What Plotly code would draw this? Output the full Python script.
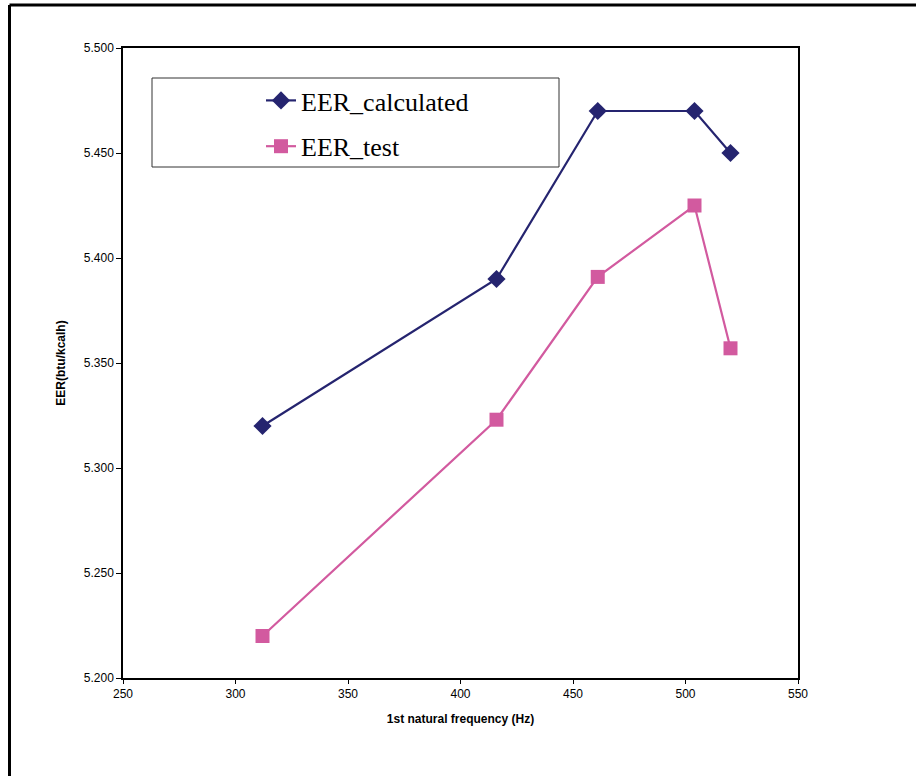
import plotly.graph_objects as go

freq = [312, 416, 461, 504, 520]
eer_calculated = [5.320, 5.390, 5.470, 5.470, 5.450]
eer_test = [5.220, 5.323, 5.391, 5.425, 5.357]

W, H = 916, 776
L, R, T, B = 123, 118, 48, 98
pw, ph = W - L - R, H - T - B

def px(xp):
    return (xp - L) / pw

def py(yp):
    return (H - B - yp) / ph

fig = go.Figure()
fig.add_trace(go.Scatter(
    x=freq, y=eer_calculated, mode="lines+markers", name="EER_calculated",
    legendgroup="a",
    line=dict(color="#25246F", width=2.2),
    marker=dict(symbol="diamond", size=14, color="#25246F"),
))
fig.add_trace(go.Scatter(
    x=freq, y=eer_test, mode="lines+markers", name="EER_test",
    legendgroup="b",
    line=dict(color="#D25A9F", width=2.2),
    marker=dict(symbol="square", size=14, color="#D25A9F"),
))

axis_font = dict(family="Liberation Sans, Arial, sans-serif", size=12, color="#000")

fig.update_layout(
    width=W, height=H,
    margin=dict(l=L, r=R, t=T, b=B, autoexpand=False),
    paper_bgcolor="white", plot_bgcolor="white",
    showlegend=True,
    legend=dict(
        x=px(261), y=py(77), xanchor="left", yanchor="top",
        font=dict(family="Liberation Serif, Times New Roman, serif", size=26, color="#000"),
        bgcolor="rgba(0,0,0,0)", borderwidth=0, tracegroupgap=9,
    ),
    xaxis=dict(
        range=[250, 550], dtick=50, tick0=250,
        showline=True, linecolor="#000", linewidth=1.5, mirror=True,
        ticks="outside", ticklen=4, tickcolor="#000", tickwidth=1,
        showgrid=False, zeroline=False, tickfont=axis_font,
        title=dict(text="<b>1st natural frequency (Hz)</b>", font=axis_font, standoff=14),
    ),
    yaxis=dict(
        range=[5.2, 5.5], dtick=0.05, tick0=5.2, tickformat=".3f",
        showline=True, linecolor="#000", linewidth=1.5, mirror=True,
        ticks="outside", ticklen=5, tickcolor="#000", tickwidth=1,
        showgrid=False, zeroline=False, tickfont=axis_font,
        title=dict(text="<b>EER(btu/kcalh)</b>", font=axis_font, standoff=16),
    ),
    shapes=[
        dict(type="rect", xref="paper", yref="paper",
             x0=px(152), x1=px(559), y0=py(167), y1=py(78),
             line=dict(color="#333", width=1), fillcolor="rgba(0,0,0,0)"),
        dict(type="line", xref="paper", yref="paper",
             x0=px(9.5), x1=px(920), y0=py(5), y1=py(5),
             line=dict(color="#000", width=3)),
        dict(type="line", xref="paper", yref="paper",
             x0=px(9.5), x1=px(9.5), y0=py(5), y1=py(780),
             line=dict(color="#000", width=3)),
    ],
)

fig.write_html(
    "out.html",
    config={"displayModeBar": False},
    post_script="document.body.style.margin='0';document.body.style.overflow='hidden';",
)
